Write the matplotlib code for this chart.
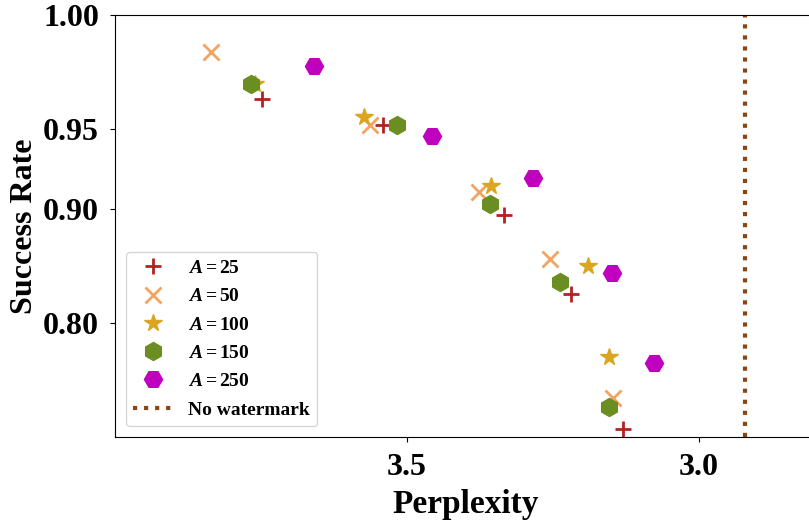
import matplotlib

matplotlib.use("Agg")

import matplotlib.pyplot as plt
import numpy as np

# perplexity / success-rate pairs per watermark strength A
ppl_a25 = [3.748, 3.542, 3.334, 3.220, 3.131]
sr_a25 = [0.965, 0.952, 0.896, 0.830, 0.663]
ppl_a50 = [3.836, 3.563, 3.377, 3.256, 3.147]
sr_a50 = [0.986, 0.952, 0.912, 0.861, 0.708]
ppl_a100 = [3.760, 3.573, 3.357, 3.191, 3.154]
sr_a100 = [0.972, 0.956, 0.916, 0.855, 0.762]
ppl_a150 = [3.767, 3.517, 3.358, 3.238, 3.154]
sr_a150 = [0.972, 0.952, 0.904, 0.841, 0.695]
ppl_a250 = [3.659, 3.457, 3.284, 3.149, 3.078]
sr_a250 = [0.980, 0.946, 0.921, 0.849, 0.754]
ppl_no_wm = 2.921

plt.rcParams["font.family"] = ["Liberation Serif", "DejaVu Serif"]
plt.rcParams["font.weight"] = "bold"
plt.rcParams["mathtext.fontset"] = "custom"
plt.rcParams["mathtext.rm"] = "Liberation Serif:bold"
plt.rcParams["mathtext.it"] = "Liberation Serif:italic:bold"
plt.rcParams["mathtext.bf"] = "Liberation Serif:bold"

W, H = 809, 523
fig = plt.figure(figsize=(W / 100, H / 100), dpi=100)
ax = fig.add_axes([115 / W, (H - 437) / H, 701 / W, 422 / H])

series = [
    (ppl_a25, sr_a25, "+", "firebrick", r"$A = 25$", 11, 2.0),
    (ppl_a50, sr_a50, "x", "sandybrown", r"$A = 50$", 11, 2.0),
    (ppl_a100, sr_a100, "*", "goldenrod", r"$A = 100$", 13, 1.0),
    (ppl_a150, sr_a150, "h", "olivedrab", r"$A = 150$", 13, 1.0),
    (ppl_a250, sr_a250, "H", "m", r"$A = 250$", 13, 1.0),
]
for xs, ys, mk, col, lab, ms, mew in series:
    ax.plot(xs, ys, ls="none", marker=mk, color=col, ms=ms, mew=mew, label=lab)

ax.axvline(ppl_no_wm, color="saddlebrown", ls=":", lw=3, label="No watermark")

# stretched scale near 1.0
ax.set_yscale("function", functions=(lambda y: -np.log(1.1 - y),
                                     lambda u: 1.1 - np.exp(-u)))
ax.set_ylim(0.65, 1.0)
ax.set_xlim(4.0, 2.8)
ax.set_xticks([3.5, 3.0])
ax.set_xticklabels(["3.5", "3.0"])
ax.set_yticks([1.00, 0.95, 0.90, 0.80])
ax.set_yticklabels(["1.00", "0.95", "0.90", "0.80"])
ax.minorticks_off()
ax.tick_params(labelsize=23)
ax.tick_params(axis="x", pad=8)
ax.tick_params(axis="y", pad=8)
ax.set_xlabel("Perplexity", fontsize=24, fontweight="bold", labelpad=5)
ax.set_ylabel("Success Rate", fontsize=23, fontweight="bold", labelpad=3)

ax.legend(loc="lower left", fontsize=14, borderaxespad=0.55, labelspacing=0.55)

fig.savefig("out.png", dpi=100)
